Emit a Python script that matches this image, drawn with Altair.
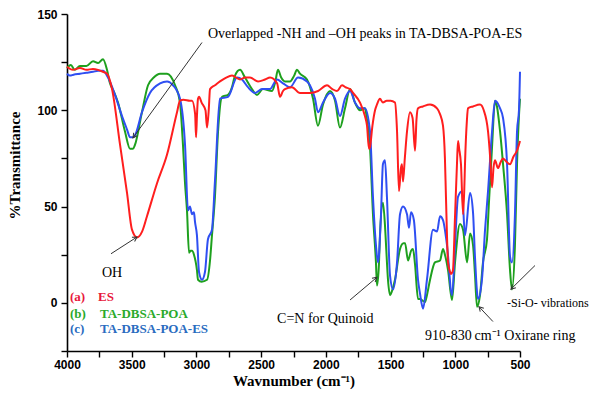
import math
import altair as alt
import pandas as pd

# ---------------- data ----------------
es_wn = [4000, 3954, 3900, 3850, 3800, 3760, 3722, 3691, 3652, 3590, 3536, 3498, 3459, 3420, 3382,
         3305, 3227, 3150, 3127, 3100, 3050, 3034, 3010, 3003, 2996, 2988, 2980, 2960, 2930, 2918,
         2905, 2895, 2857, 2818, 2770, 2725, 2663, 2625, 2586, 2524, 2470, 2431, 2377, 2354, 2331,
         2316, 2262, 2200, 2123, 2060, 1991, 1950, 1914, 1875, 1850, 1813, 1790, 1736, 1698, 1682,
         1667, 1659, 1640, 1620, 1605, 1582, 1560, 1530, 1500, 1466, 1450, 1435, 1420, 1412, 1404,
         1390, 1373, 1350, 1330, 1311, 1300, 1288, 1250, 1195, 1141, 1118, 1095, 1080, 1072, 1056,
         1040, 1033, 1018, 1002, 987, 979, 970, 956, 940, 930, 925, 910, 902, 863, 809, 780,
         747, 730, 716, 705, 693, 670, 650, 631, 600, 577, 550, 523, 500]
es_t = [122.6, 121, 122, 121, 121.5, 121, 120, 119, 111, 82, 57, 38, 34, 37, 45,
        62, 77, 99, 105, 105.5, 105, 105, 98, 86, 97, 106, 107, 104, 100, 91,
        100, 111, 113, 115, 117, 118, 116, 117, 117, 115, 116, 117, 114, 107, 110,
        111, 112, 109, 109, 110, 113, 111, 110, 113, 112, 111, 109, 104, 97, 92,
        80, 81, 92, 100, 103, 106, 104, 105, 105, 104, 89, 58, 70, 72, 63,
        75, 89, 99, 96, 79, 95, 101, 102, 103, 101, 98, 92, 75, 55, 21,
        16, 15, 17, 45, 72, 84, 80, 72, 46, 60, 72, 95, 101, 102, 103, 100,
        89, 75, 60, 70, 74, 70, 73, 75, 73, 72, 76, 79, 84]

poa_wn = [4000, 3970, 3940, 3900, 3850, 3799, 3760, 3722, 3691, 3668, 3640, 3606, 3552, 3513, 3490,
          3475, 3421, 3374, 3330, 3281, 3227, 3165, 3127, 3104, 3088, 3073, 3057, 3045, 3034, 3019,
          2996, 2988, 2960, 2918, 2895, 2880, 2857, 2833, 2802, 2756, 2725, 2702, 2663, 2625, 2571,
          2532, 2486, 2416, 2390, 2370, 2345, 2316, 2277, 2245, 2223, 2200, 2146, 2099, 2061, 2022,
          1968, 1929, 1891, 1852, 1813, 1775, 1736, 1698, 1682, 1659, 1636, 1613, 1605, 1590, 1582,
          1559, 1543, 1535, 1520, 1504, 1490, 1466, 1427, 1400, 1388, 1365, 1342, 1327, 1311, 1288,
          1273, 1250, 1234, 1219, 1195, 1157, 1118, 1095, 1080, 1056, 1025, 1002, 964, 940, 909,
          886, 863, 848, 832, 809, 786, 755, 740, 716, 693, 678, 654, 631, 600, 577,
          562, 539, 523, 508, 500]
poa_t = [122, 123.5, 121, 123, 123, 125.5, 124.5, 126.5, 121, 114, 110, 104, 89, 80, 80,
         82, 99, 113, 117, 119, 119, 113, 104, 82, 62, 48, 26, 27, 27, 25,
         17, 12, 11, 12, 22, 35, 55, 89, 107, 108, 112, 118, 121, 117, 111,
         108, 111, 110, 115, 121, 117, 115, 115, 118, 121, 119, 116, 106, 92, 103,
         110, 105, 91, 101, 111, 104, 100, 101, 95, 81, 46, 21, 9, 20, 35,
         52, 40, 30, 12, 4, 6, 12, 28, 31, 31, 22, 27, 28, 20, 2,
         2, 1, 0.5, 4, 12, 21, 22, 28, 25, 17, 1.5, 21, 41, 38, 21,
         36, 30, 15, -2, 4, 21, 33, 52, 81, 105, 102, 89, 72, 46, 17,
         7, 30, 72, 97, 106]

poaes_wn = [4000, 3977, 3950, 3900, 3850, 3799, 3760, 3722, 3683, 3629, 3575, 3536, 3513, 3490, 3475,
            3421, 3359, 3281, 3227, 3181, 3127, 3088, 3065, 3050, 3034, 3019, 3011, 2996, 2980, 2957,
            2934, 2911, 2880, 2857, 2818, 2756, 2686, 2648, 2602, 2547, 2493, 2432, 2377, 2331, 2277,
            2215, 2146, 2123, 2084, 2061, 2022, 1968, 1929, 1891, 1852, 1813, 1775, 1736, 1698, 1659,
            1636, 1613, 1597, 1574, 1559, 1543, 1528, 1504, 1481, 1450, 1427, 1404, 1373, 1358, 1342,
            1320, 1288, 1273, 1249, 1219, 1172, 1141, 1118, 1095, 1064, 1025, 1002, 979, 948, 925,
            886, 863, 848, 824, 794, 770, 747, 716, 693, 654, 631, 600, 577, 562, 539,
            523, 508, 500]
poaes_t = [119, 118, 118.5, 119, 119.5, 120, 120.5, 120.5, 117, 108, 97, 90, 86, 86, 87,
           99, 109, 114, 115, 113, 106, 82, 48, 50, 46, 47, 42, 35, 16, 12,
           16, 33, 38, 63, 106, 107, 117, 116, 112, 109, 111, 111, 116, 114, 112,
           117, 115, 113, 106, 99, 104, 109, 106, 97, 106, 110, 104, 101, 101, 89,
           55, 30, 21, 46, 72, 74, 55, 14, 7, 21, 46, 50, 46, 39, 47,
           43, 12, 5, -3, 12, 38, 37, 45, 43, 30, 4, 30, 55, 58, 35,
           57, 47, 24, 2, 12, 38, 58, 89, 105, 101, 96, 72, 24, 21, 46,
           89, 100, 120]

series_names = ["ES", "TA-DBSA-POA", "TA-DBSA-POA-ES"]
series_colors = ["#ff1e1e", "#1ea01e", "#2f4ff2"]

# annotation texts (wavenumber, transmittance)
note_text = ["Overlapped  -NH and \u2013OH peaks in TA-DBSA-POA-ES", "OH", "C=N for Quinoid",
             "910-830\u2009cm\u207b\u00b9  Oxirane  ring", "-Si-O- vibrations"]
note_wn = [2911, 3652, 2377, 1234, 600]
note_t = [139.8, 15.3, -8.2, -17.3, 0.0]
note_size = [14, 14, 14, 14, 12]

# arrows: tail -> head
arrow_x = [2957, 3660, 1813, 709, 384]
arrow_y = [135.2, 25.5, 1.5, -9.7, 19.4]
arrow_x2 = [3490, 3459, 1605, 817, 570]
arrow_y2 = [85.7, 34.2, 13.3, -2.0, 7.1]

legend_tag = ["(a)", "(b)", "(c)"]
legend_label = ["ES", "TA-DBSA-POA", "TA-DBSA-POA-ES"]
legend_colors = ["#e8183c", "#2aaa2a", "#2a6cc0"]
legend_t = [3.1, -5.6, -13.8]
legend_tag_wn = 3977
legend_label_wn = [3760, 3745, 3745]

# ---------------- layout ----------------
W, H = 453, 337
X_DOM = [4000, 500]
Y_DOM = [-25, 150]

x_scale = alt.Scale(domain=X_DOM, nice=False, zero=False)
y_scale = alt.Scale(domain=Y_DOM, nice=False, zero=False)

x_axis = alt.Axis(values=list(range(4000, 499, -250)), format="d",
                  labelExpr="datum.value % 500 == 0 ? datum.label : ''",
                  title="Wavnumber (cm\u207b\u00b9)", titleFont="Liberation Serif",
                  titleFontSize=15, titleFontWeight="bold", titleColor="black",
                  titleY=29, titleBaseline="middle",
                  labelFont="Liberation Sans", labelFontSize=12, labelFontWeight="bold",
                  labelColor="black", tickSize=6, labelPadding=2, domainColor="black",
                  domainWidth=1.6, tickColor="black", tickWidth=1.4, grid=False,
                  labelFlush=False, labelOverlap=False)
y_axis = alt.Axis(values=list(range(-25, 151, 25)),
                  labelExpr="datum.value % 50 == 0 ? datum.label : ''",
                  title="%Transmittance", titleFont="Liberation Serif", titleFontSize=15,
                  titleFontWeight="bold", titleColor="black", titleAngle=270,
                  titleX=-53, titleY=151, titleAlign="center", titleBaseline="middle",
                  labelFont="Liberation Sans", labelFontSize=12, labelFontWeight="bold",
                  labelColor="black", tickSize=6, labelPadding=4, domainColor="black",
                  domainWidth=1.6, tickColor="black", tickWidth=1.4, grid=False,
                  labelFlush=False, labelOverlap=False)


def X(field):
    return alt.X(field, scale=x_scale, axis=x_axis)


def Y(field):
    return alt.Y(field, scale=y_scale, axis=y_axis)


def series_df(wn, t, name):
    return pd.DataFrame({"wn": wn, "t": t, "series": name, "idx": list(range(len(wn)))})


def line_layer(df, color):
    return alt.Chart(df).mark_line(color=color, strokeWidth=2, interpolate="monotone").encode(
        x=X("wn:Q"), y=Y("t:Q"), order="idx:Q")


green = line_layer(series_df(poa_wn, poa_t, series_names[1]), series_colors[1])
blue = line_layer(series_df(poaes_wn, poaes_t, series_names[2]), series_colors[2])
red = line_layer(series_df(es_wn, es_t, series_names[0]), series_colors[0])

# arrows
sx = W / (X_DOM[0] - X_DOM[1])
sy = H / (Y_DOM[1] - Y_DOM[0])
angles = []
for x1, y1, x2, y2 in zip(arrow_x, arrow_y, arrow_x2, arrow_y2):
    dx = -(x2 - x1) * sx
    dy = -(y2 - y1) * sy
    angles.append(math.degrees(math.atan2(dx, -dy)) % 360)
arrows = pd.DataFrame({"x": arrow_x, "y": arrow_y, "x2": arrow_x2, "y2": arrow_y2, "angle": angles})

arrow_lines = alt.Chart(arrows).mark_rule(color="#333333", strokeWidth=1).encode(
    x=X("x:Q"), y=Y("y:Q"), x2="x2:Q", y2="y2:Q")
arrow_heads = alt.Chart(arrows).mark_point(
    shape="M -0.55 1 L 0 0 L 0.55 1", filled=False, color="#333333", strokeWidth=1, size=80,
    opacity=1).encode(
    x=X("x2:Q"), y=Y("y2:Q"), angle=alt.Angle("angle:Q", scale=None))

notes = pd.DataFrame({"text": note_text, "wn": note_wn, "t": note_t, "size": note_size,
                      "align": ["left", "center", "left", "left", "left"]})
notes_left = alt.Chart(notes[notes["align"] == "left"]).mark_text(
    align="left", baseline="middle", font="Liberation Serif", color="black").encode(
    x=X("wn:Q"), y=Y("t:Q"), text="text:N", size=alt.Size("size:Q", scale=None, legend=None))
notes_center = alt.Chart(notes[notes["align"] == "center"]).mark_text(
    align="center", baseline="middle", font="Liberation Serif", color="black").encode(
    x=X("wn:Q"), y=Y("t:Q"), text="text:N", size=alt.Size("size:Q", scale=None, legend=None))

legend_df = pd.DataFrame({"tag": legend_tag, "label": legend_label, "col": legend_colors,
                          "t": legend_t, "tag_wn": [legend_tag_wn] * 3, "label_wn": legend_label_wn})
legend_tags = alt.Chart(legend_df).mark_text(
    align="left", baseline="middle", font="Liberation Serif", fontSize=13, fontWeight="bold").encode(
    x=X("tag_wn:Q"), y=Y("t:Q"), text="tag:N", color=alt.Color("col:N", scale=None))
legend_labels = alt.Chart(legend_df).mark_text(
    align="left", baseline="middle", font="Liberation Serif", fontSize=13, fontWeight="bold").encode(
    x=X("label_wn:Q"), y=Y("t:Q"), text="label:N", color=alt.Color("col:N", scale=None))

chart = alt.layer(
    green, blue, red, arrow_lines, arrow_heads, notes_left, notes_center, legend_tags, legend_labels
).properties(
    width=W, height=H,
    autosize=alt.AutoSizeParams(type="none"),
    padding={"left": 59, "top": 6, "right": 74, "bottom": 40},
    background="white",
).configure_view(stroke=None)

chart.save("out.html", embed_options={"renderer": "svg", "actions": False})
